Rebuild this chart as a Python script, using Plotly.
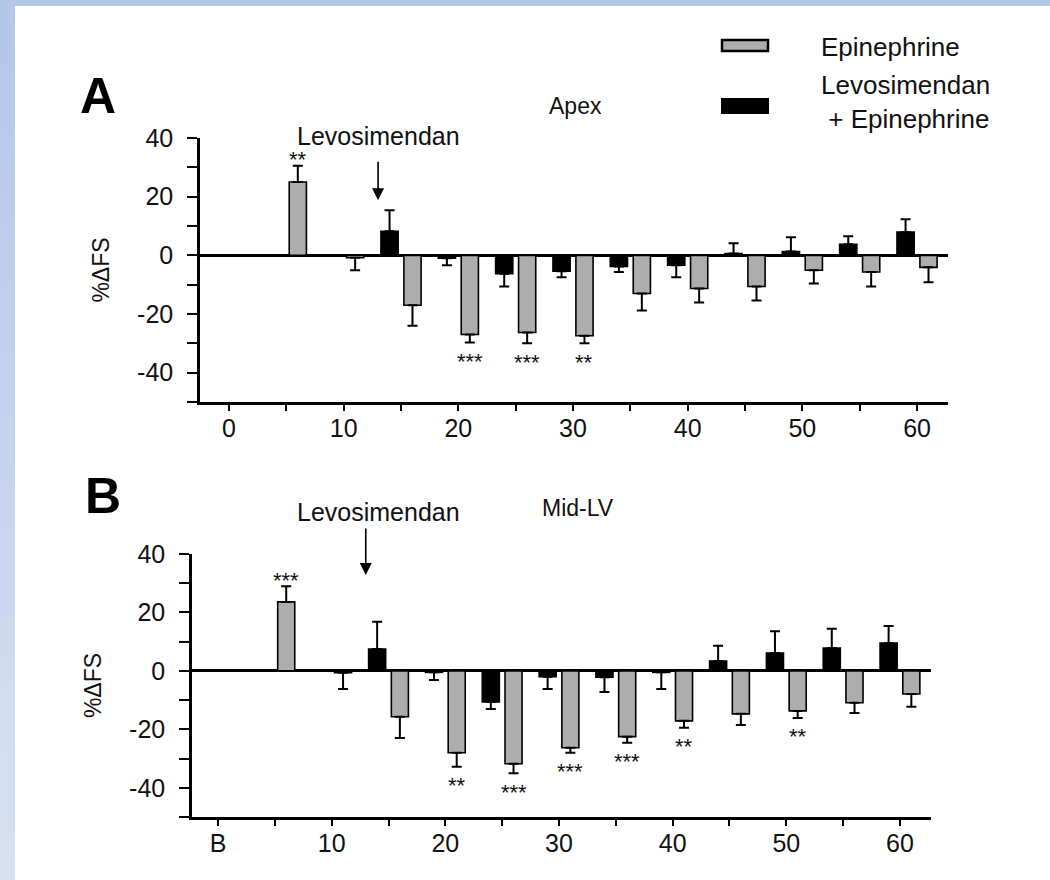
import plotly.graph_objects as go

# ---------------- data ----------------
epi_x = [6, 11, 16, 21, 26, 31, 36, 41, 46, 51, 56, 61]
levo_x = [14, 19, 24, 29, 34, 39, 44, 49, 54, 59]

# Panel A (Apex)
a_epi = [25.0, -0.8, -17.0, -27.0, -26.3, -27.4, -13.0, -11.3, -10.6, -5.1, -5.7, -4.1]
a_epi_err = [5.5, 4.3, 7.0, 2.7, 3.7, 2.6, 5.8, 4.8, 4.8, 4.5, 4.9, 5.1]
a_levo = [8.2, -1.0, -6.3, -5.4, -3.8, -3.4, 0.6, 1.3, 3.8, 7.9]
a_levo_err = [7.2, 2.4, 4.3, 2.1, 1.9, 4.1, 3.5, 4.9, 2.7, 4.4]
a_sig = {0: "**", 3: "***", 4: "***", 5: "**"}

# Panel B (Mid-LV)
b_epi = [23.6, -0.6, -15.7, -28.0, -31.8, -26.3, -22.5, -17.1, -14.7, -13.7, -10.9, -7.9]
b_epi_err = [5.4, 5.6, 7.3, 4.8, 3.2, 1.7, 2.1, 2.4, 3.8, 2.4, 3.5, 4.4]
b_levo = [7.5, -0.5, -10.6, -2.0, -2.2, -0.5, 3.4, 6.1, 7.8, 9.5]
b_levo_err = [9.3, 2.6, 2.4, 4.2, 5.0, 5.7, 5.2, 7.5, 6.6, 5.9]
b_sig = {0: "***", 3: "**", 4: "***", 5: "***", 6: "***", 7: "**", 9: "**"}

x_tickvals = [0, 5, 10, 15, 20, 25, 30, 35, 40, 45, 50, 55, 60]
a_xticktext = ["0", "", "10", "", "20", "", "30", "", "40", "", "50", "", "60"]
b_xticktext = ["B", "", "10", "", "20", "", "30", "", "40", "", "50", "", "60"]
y_tickvals = [-50, -40, -30, -20, -10, 0, 10, 20, 30, 40]
y_ticktext = ["", "-40", "", "-20", "", "0", "", "20", "", "40"]

levo_arrow_x = 13
series_names = ["Epinephrine", "Levosimendan<br> + Epinephrine"]

# ---------------- style ----------------
W, H = 1050, 880
FONT = "Liberation Sans, Arial, Helvetica, sans-serif"
GRAY = "#adadad"
BLACK = "#000000"
TXT = "#111111"


def px(x):
    return x / W


def py(y):
    return 1 - y / H


def err_parts(vals, errs):
    plus = [e if v >= 0 else 0 for v, e in zip(vals, errs)]
    minus = [e if v < 0 else 0 for v, e in zip(vals, errs)]
    return plus, minus


fig = go.Figure()


def add_bars(xs, vals, errs, color, xa, ya, name):
    plus, minus = err_parts(vals, errs)
    fig.add_trace(go.Bar(
        x=xs, y=vals, width=1.5, name=name,
        marker=dict(color=color, line=dict(color=BLACK, width=1.6)),
        error_y=dict(type="data", symmetric=False, array=plus, arrayminus=minus,
                     color=BLACK, thickness=2, width=5),
        xaxis=xa, yaxis=ya, showlegend=False,
    ))


add_bars(epi_x, a_epi, a_epi_err, GRAY, "x", "y", "Epinephrine")
add_bars(levo_x, a_levo, a_levo_err, BLACK, "x", "y", "Levosimendan + Epinephrine")
add_bars(epi_x, b_epi, b_epi_err, GRAY, "x2", "y2", "Epinephrine")
add_bars(levo_x, b_levo, b_levo_err, BLACK, "x2", "y2", "Levosimendan + Epinephrine")

axis_common = dict(showline=True, linecolor=BLACK, linewidth=2.5, ticks="outside",
                   tickcolor=BLACK, tickwidth=2.2, showgrid=False, automargin=False,
                   tickfont=dict(family=FONT, size=25, color=TXT))

xa_common = dict(axis_common, tickvals=x_tickvals, ticklen=6, zeroline=False,
                 ticklabelstandoff=-4)
ya_common = dict(axis_common, tickvals=y_tickvals, ticktext=y_ticktext, ticklen=10,
                 ticklabelstandoff=9,
                 range=[-50, 40], zeroline=True, zerolinecolor=BLACK, zerolinewidth=2.6)

ytitle = dict(text="%ΔFS", font=dict(family=FONT, size=23, color=TXT), standoff=22)

fig.update_layout(
    width=W, height=H, margin=dict(l=0, r=0, t=0, b=0),
    paper_bgcolor="white", plot_bgcolor="white",
    barmode="overlay", showlegend=False,
    xaxis=dict(xa_common, domain=[px(200), px(948)], range=[-2.53, 62.7],
               ticktext=a_xticktext, anchor="y"),
    yaxis=dict(ya_common, domain=[py(402), py(138)], anchor="x", title=ytitle),
    xaxis2=dict(xa_common, domain=[px(192), px(931)], range=[-2.29, 62.73],
                ticktext=b_xticktext, anchor="y2"),
    yaxis2=dict(ya_common, domain=[py(817), py(554)], anchor="x2", title=ytitle),
)

annotations = []


def sig_annotations(vals, errs, sig, xref, yref):
    for i, txt in sig.items():
        v, e = vals[i], errs[i]
        up = v >= 0
        annotations.append(dict(x=epi_x[i], y=(v + e) if up else (v - e), xref=xref, yref=yref,
                                text=txt, showarrow=False, xanchor="center", yanchor="middle",
                                yshift=6 if up else -19,
                                font=dict(family=FONT, size=22, color=TXT)))


sig_annotations(a_epi, a_epi_err, a_sig, "x", "y")
sig_annotations(b_epi, b_epi_err, b_sig, "x2", "y2")


def ptext(x, y, text, size=25, xanchor="center", bold=False, align="center"):
    return dict(x=px(x), y=py(y), xref="paper", yref="paper",
                text=("<b>%s</b>" % text) if bold else text, showarrow=False,
                xanchor=xanchor, yanchor="middle", align=align,
                font=dict(family=FONT, size=size, color="black" if bold else TXT))


annotations += [
    ptext(98, 96, "A", size=50, bold=True),
    ptext(103, 496, "B", size=50, bold=True),
    ptext(575, 106, "Apex", size=23),
    ptext(578, 508, "Mid-LV", size=23),
    ptext(378, 136, "Levosimendan"),
    ptext(378, 512, "Levosimendan"),
    ptext(819, 47, series_names[0], size=26, xanchor="left"),
    ptext(819, 102, series_names[1], size=26, xanchor="left", align="left"),
    # arrows
    dict(x=levo_arrow_x, y=18.8, xref="x", yref="y", text="", showarrow=True,
         ax=0, ay=-40, arrowhead=2, arrowsize=1.5, arrowwidth=1.6, arrowcolor="black"),
    dict(x=levo_arrow_x, y=32.8, xref="x2", yref="y2", text="", showarrow=True,
         ax=0, ay=-48, arrowhead=2, arrowsize=1.5, arrowwidth=1.6, arrowcolor="black"),
]

shapes = []
# page background border (light blue)
shapes.append(dict(type="rect", xref="paper", yref="paper", x0=0, x1=1, y0=py(6), y1=1,
                   fillcolor="#b3c7e8", line=dict(width=0), layer="below"))
n = 40
c0 = (0xb3, 0xc7, 0xe8)
c1 = (0xd6, 0xe1, 0xf3)
for k in range(n):
    t = k / (n - 1)
    col = "rgb(%d,%d,%d)" % tuple(round(a + (b - a) * t) for a, b in zip(c0, c1))
    shapes.append(dict(type="rect", xref="paper", yref="paper", x0=0, x1=px(15),
                       y0=py(H * (k + 1) / n), y1=py(H * k / n),
                       fillcolor=col, line=dict(width=0), layer="below"))
# legend swatches
shapes.append(dict(type="rect", xref="paper", yref="paper", x0=px(722), x1=px(768),
                   y0=py(51), y1=py(40), fillcolor=GRAY, line=dict(color="black", width=2.5)))
shapes.append(dict(type="rect", xref="paper", yref="paper", x0=px(722), x1=px(768),
                   y0=py(113), y1=py(99), fillcolor=BLACK, line=dict(color="black", width=2)))

fig.update_layout(annotations=annotations, shapes=shapes)
fig.write_html("out.html")
